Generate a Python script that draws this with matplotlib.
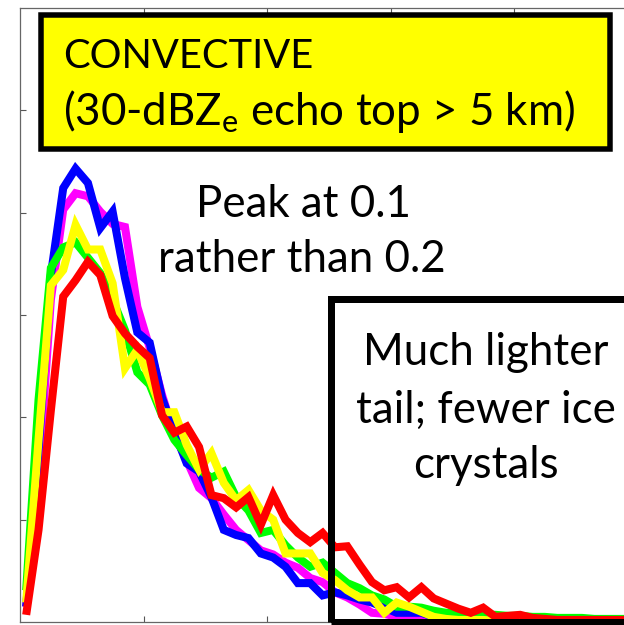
import matplotlib
matplotlib.use("Agg")
import matplotlib.pyplot as plt
from matplotlib.patches import Rectangle
import numpy as np

# Histogram bins (0.025 wide) of the particle-size parameter
bin_width = 0.025
n_bins = 50
size_centers = (np.arange(n_bins) + 0.5) * bin_width

# Relative frequency per bin for the five convective sub-sets
blue = [0.15, 1.68, 3.39, 4.24, 4.43, 4.29, 3.85, 4.01, 3.36, 2.83,
        2.73, 2.19, 1.86, 1.55, 1.47, 1.22, 0.90, 0.85, 0.82, 0.67,
        0.63, 0.54, 0.38, 0.38, 0.26, 0.29, 0.26, 0.22, 0.19, 0.14,
        0.09, 0.09, 0.09, 0.05, 0.03, 0.02, 0.02, 0.01, 0.01, 0.01,
        0.01, 0.01, 0.01, 0.00, 0.00, 0.00, 0.00, 0.00, 0.00, 0.00]
magenta = [0.15, 1.39, 3.15, 4.03, 4.19, 4.16, 4.01, 3.89, 3.86, 3.08,
           2.68, 2.22, 1.83, 1.58, 1.31, 1.21, 1.05, 0.90, 0.80, 0.70,
           0.66, 0.58, 0.53, 0.43, 0.39, 0.29, 0.24, 0.17, 0.09, 0.08,
           0.05, 0.04, 0.03, 0.02, 0.02, 0.01, 0.01, 0.01, 0.01, 0.01,
           0.00, 0.00, 0.00, 0.00, 0.00, 0.00, 0.00, 0.00, 0.00, 0.00]
green = [0.31, 2.17, 3.46, 3.66, 3.71, 3.56, 3.41, 3.15, 2.85, 2.44,
         2.32, 2.02, 1.78, 1.63, 1.49, 1.41, 1.47, 1.22, 1.09, 0.87,
         0.90, 0.75, 0.63, 0.54, 0.58, 0.48, 0.38, 0.33, 0.26, 0.22,
         0.15, 0.15, 0.14, 0.11, 0.09, 0.08, 0.07, 0.07, 0.07, 0.06,
         0.06, 0.05, 0.05, 0.04, 0.04, 0.04, 0.03, 0.03, 0.03, 0.03]
yellow = [0.19, 1.78, 3.29, 3.44, 3.88, 3.64, 3.64, 3.31, 2.48, 2.66,
          2.38, 2.05, 2.05, 1.73, 1.49, 1.65, 1.36, 1.19, 1.29, 1.09,
          1.00, 0.67, 0.67, 0.67, 0.48, 0.41, 0.31, 0.24, 0.24, 0.09,
          0.19, 0.15, 0.10, 0.05, 0.03, 0.02, 0.02, 0.02, 0.01, 0.01,
          0.01, 0.01, 0.00, 0.00, 0.00, 0.00, 0.00, 0.00, 0.00, 0.00]
red = [0.07, 0.90, 2.07, 3.18, 3.34, 3.52, 3.39, 2.99, 2.82, 2.69,
       2.58, 2.02, 1.85, 1.91, 1.71, 1.24, 1.21, 1.12, 1.22, 0.95,
       1.24, 1.00, 0.87, 0.78, 0.87, 0.73, 0.74, 0.56, 0.39, 0.31,
       0.34, 0.24, 0.34, 0.23, 0.18, 0.13, 0.09, 0.14, 0.05, 0.06,
       0.07, 0.04, 0.03, 0.02, 0.02, 0.02, 0.02, 0.02, 0.02, 0.02]

series = [("magenta", magenta), ("blue", blue), ("lime", green),
          ("yellow", yellow), ("red", red)]

x_ticks = [0.25, 0.5, 0.75, 1.0]
y_ticks = [1, 2, 3, 4, 5]

FONT = "Lato"
plt.rcParams["font.family"] = [FONT, "DejaVu Sans"]
plt.rcParams["mathtext.fontset"] = "custom"
plt.rcParams["mathtext.rm"] = FONT

W, H = 624, 625
fig = plt.figure(figsize=(W / 100, H / 100), dpi=100)

# axes placed in pixel terms; the right part runs past the figure edge
ax_left, ax_top, ax_bottom = 20, 8, 622
ax_width = 617.5
ax = fig.add_axes([ax_left / W, 1 - ax_bottom / H, ax_width / W,
                   (ax_bottom - ax_top) / H])
for name, vals in series:
    ax.plot(size_centers, vals, color=name, lw=5.8,
            solid_joinstyle="miter", solid_capstyle="butt")

ax.set_xlim(0, 1.25)
ax.set_ylim(0, 6)
ax.set_xticks(x_ticks)
ax.set_yticks(y_ticks)
ax.set_xticklabels([])
ax.set_yticklabels([])
ax.tick_params(direction="in", length=4.3, width=0.8, color="#555555",
               top=True, right=True)
for sp in ax.spines.values():
    sp.set_color("#666666")
    sp.set_linewidth(0.9)


def px(x, y):
    return x / W, 1 - y / H


def box(x0, y0, x1, y1, lw_px, face):
    fx0, fy1 = px(x0, y0)
    fx1, fy0 = px(x1, y1)
    fig.patches.append(Rectangle((fx0, fy0), fx1 - fx0, fy1 - fy0,
                                 transform=fig.transFigure,
                                 facecolor=face, edgecolor="black",
                                 lw=lw_px * 0.72, joinstyle="miter",
                                 zorder=5))


# title panel and tail annotation frame
box(40.8, 14.8, 610.2, 149.2, 5.5, "yellow")
box(330.5, 299, 720, 622, 7, "none")

renderer = fig.canvas.get_renderer()


def fitted_size(s, width_px):
    probe = fig.text(0, 0, s, fontsize=30)
    w = probe.get_window_extent(renderer).width
    probe.remove()
    return 30 * width_px / w


fs = fitted_size("rather than 0.2", 287)
fs_head = fitted_size("CONVECTIVE", 250)


def label(x, y, s, ha, size=None):
    fig.text(*px(x, y), s, fontsize=size or fs, ha=ha, va="baseline",
             color="black", zorder=6)


label(63, 68, "CONVECTIVE", "left", fs_head)
label(63, 125, r"(30-dBZ$_\mathrm{e}$ echo top > 5 km)", "left")
label(303, 217, "Peak at 0.1", "center")
label(302, 272, "rather than 0.2", "center")
label(486, 365, "Much lighter", "center")
label(486, 423, "tail; fewer ice", "center")
label(486, 478, "crystals", "center")

fig.savefig("out.png", dpi=100)
